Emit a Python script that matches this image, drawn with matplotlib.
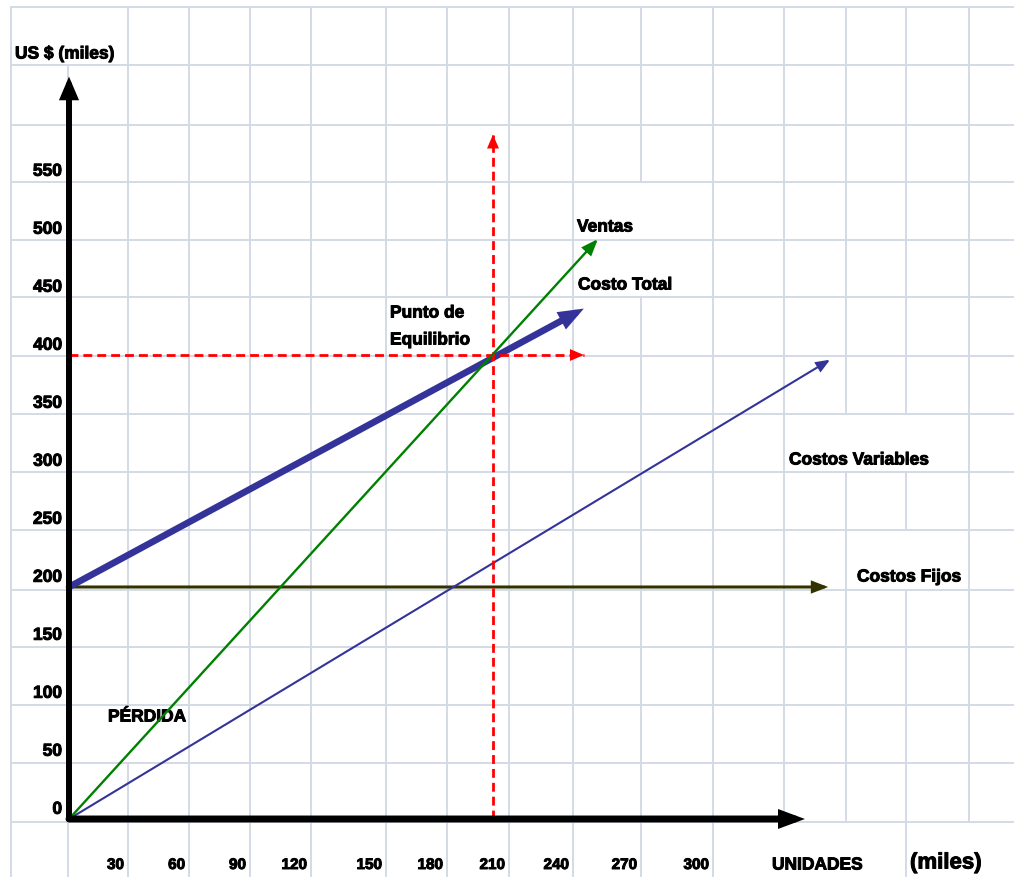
import matplotlib.pyplot as plt
import matplotlib.patheffects as pe

# Punto de equilibrio: valores en miles de unidades / miles de US$
ventas_x = [0, 262]
ventas_y = [0, 500]
costo_total_x = [0, 255]
costo_total_y = [200, 440]
costos_var_x = [0, 377]
costos_var_y = [0, 396]
costos_fijos_x = [0, 376]
costos_fijos_y = [200, 200]
equilibrio_x = 210
equilibrio_y = 400
eq_vertical_top = 590
eq_horizontal_end = 255

x_tick_labels = [30, 60, 90, 120, 150, 180, 210, 240, 270, 300]
y_tick_labels = [0, 50, 100, 150, 200, 250, 300, 350, 400, 450, 500, 550]

# page layout in pixels (spreadsheet cells)
W, H = 1014, 878
ORIGIN = (69, 820)
PX_X, PX_Y = 2.019, 1.16
cols = [11, 68, 128, 189, 250, 311, 386, 447, 509, 573, 641, 713, 784, 846, 906, 969]
rows = [8, 66, 126, 183, 241, 298, 357, 415, 473, 531, 591, 648, 706, 764, 823]
hidden = {68: [(8, 66)], 128: [(706, 764)], 447: [(298, 357)],
          641: [(183, 298)], 784: [(823, 878)],
          846: [(415, 473), (823, 878)], 906: [(415, 473), (531, 591)],
          969: [(823, 878)]}
GRID = '#D3DAE7'
FONT = 'Liberation Sans'

fig = plt.figure(figsize=(W / 100, H / 100), dpi=100)

# sheet grid, drawn in pixel coordinates
pax = fig.add_axes([0, 0, 1, 1])
pax.set_xlim(0, W)
pax.set_ylim(H, 0)
pax.axis('off')
for r in rows:
    pax.plot([cols[0], W], [r, r], color=GRID, lw=1.4, zorder=0)
for c in cols:
    spans = [(rows[0], H)]
    for a, b in hidden.get(c, []):
        new = []
        for s0, s1 in spans:
            if b <= s0 or a >= s1:
                new.append((s0, s1))
            else:
                if s0 < a:
                    new.append((s0, a))
                if b < s1:
                    new.append((b, s1))
        spans = new
    for s0, s1 in spans:
        pax.plot([c, c], [s0, s1], color=GRID, lw=1.4, zorder=0)

# heavy, tight lettering
heavy = [pe.withStroke(linewidth=0.7, foreground='black')]
txt = dict(fontfamily=FONT, fontweight='bold', color='black', va='center',
           path_effects=heavy)
pax.text(15, 55, 'US $ (miles)', fontsize=12.5, **txt)
pax.text(577, 228, 'Ventas', fontsize=12.5, **txt)
pax.text(578, 286, 'Costo Total', fontsize=12.5, **txt)
pax.text(390, 314, 'Punto de', fontsize=12.5, **txt)
pax.text(390, 341, 'Equilibrio', fontsize=12.5, **txt)
pax.text(789, 461, 'Costos Variables', fontsize=12.5, **txt)
pax.text(857, 578, 'Costos Fijos', fontsize=12.5, **txt)
pax.text(108, 718, 'PÉRDIDA', fontsize=12.5, **txt)
pax.text(772, 866, 'UNIDADES', fontsize=12.5, **txt)
pax.text(910, 864, '(miles)', fontsize=16, **txt)
for lab, c in zip(x_tick_labels, cols[2:]):
    pax.text(c - 4, 866, str(lab), fontsize=11, ha='right', **txt)

# chart area in data units
ax = fig.add_axes([0, 0, 1, 1])
ax.patch.set_alpha(0)
ax.set_xlim(-ORIGIN[0] / PX_X, (W - ORIGIN[0]) / PX_X)
ax.set_ylim(-(H - ORIGIN[1]) / PX_Y, ORIGIN[1] / PX_Y)
ax.axis('off')

for v in y_tick_labels:
    ax.annotate(str(v), (0, v), xytext=(-5, 7), textcoords='offset points',
                ha='right', fontsize=12.5, **txt)


def arrow(x, y, color, lw, hl, hw, z=3):
    ax.annotate('', xy=(x[-1], y[-1]), xytext=(x[0], y[0]),
                arrowprops=dict(arrowstyle=f'-|>,head_length={hl},head_width={hw}',
                                color=color, lw=lw, shrinkA=0, shrinkB=0,
                                mutation_scale=1, joinstyle='miter'),
                zorder=z)


def dashed_arrow(x, y, color):
    ax.plot(x, y, color=color, lw=2, dashes=(3.2, 1.8), zorder=4)
    dx = (x[-1] - x[0]) * 0.02
    dy = (y[-1] - y[0]) * 0.02
    ax.annotate('', xy=(x[-1], y[-1]), xytext=(x[-1] - dx, y[-1] - dy),
                arrowprops=dict(arrowstyle='-|>,head_length=10,head_width=4.3',
                                color=color, lw=0, shrinkA=0, shrinkB=0,
                                mutation_scale=1), zorder=4)


# axes arrows
arrow([0, 0], [0, 640], 'black', 4.3, 9.4, 4.0, z=5)
arrow([0, 364.5], [0, 0], 'black', 5.0, 9.7, 3.6, z=5)

# equilibrium guides
dashed_arrow([equilibrio_x, equilibrio_x], [0, eq_vertical_top], '#FF0000')
dashed_arrow([0, eq_horizontal_end], [equilibrio_y, equilibrio_y], '#FF0000')

arrow(costos_fijos_x, costos_fijos_y, '#333300', 2.2, 8.3, 3.2)
arrow(costos_var_x, costos_var_y, '#333399', 1.5, 8.0, 3.2)
arrow(costo_total_x, costo_total_y, '#333399', 4.8, 9.4, 3.6)
arrow(ventas_x, ventas_y, '#008000', 1.7, 9.4, 3.6, z=4)

fig.savefig('out.png', dpi=100)
plt.close(fig)
